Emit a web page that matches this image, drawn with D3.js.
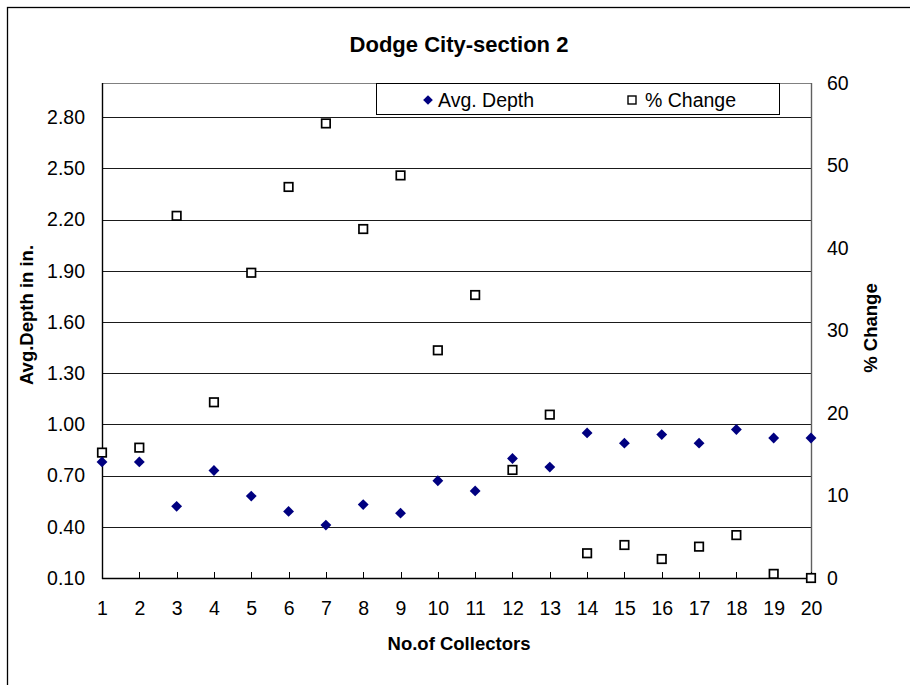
<!DOCTYPE html>
<html>
<head>
<meta charset="utf-8">
<script src="https://cdn.jsdelivr.net/npm/d3@7"></script>
<style>
  html, body { margin: 0; padding: 0; background: #fff; }
  svg { display: block; font-family: "Liberation Sans", Arial, sans-serif; }
</style>
</head>
<body>
<svg id="chart" width="910" height="685"></svg>
<script>
// ---- data ----
const categories = [1,2,3,4,5,6,7,8,9,10,11,12,13,14,15,16,17,18,19,20];
const avgDepth = [0.78,0.78,0.52,0.73,0.58,0.49,0.41,0.53,0.48,0.67,0.61,0.80,0.75,0.95,0.89,0.94,0.89,0.97,0.92,0.92];
const pctChange = [15.2,15.8,43.9,21.3,37.0,47.4,55.1,42.3,48.8,27.6,34.3,13.1,19.8,3.0,4.0,2.3,3.8,5.2,0.5,0.0];
const leftTicks = [0.10,0.40,0.70,1.00,1.30,1.60,1.90,2.20,2.50,2.80];
const rightTicks = [0,10,20,30,40,50,60];
const seriesNames = ["Avg. Depth", "% Change"];
const titleText = "Dodge City-section 2";
const xTitle = "No.of Collectors";
const yLeftTitle = "Avg.Depth in in.";
const yRightTitle = "% Change";

// ---- layout ----
const svg = d3.select("#chart");
const L = 102, R = 811, T = 83, B = 578;

const x = d3.scaleLinear().domain([1, 20]).range([L, R]);
const yL = d3.scaleLinear().domain([0.1, 3.0]).range([B, T]);
const yR = d3.scaleLinear().domain([0, 60]).range([B, T]);

// outer chart border (only top/left visible)
svg.append("rect").attr("x", 7.5).attr("y", 7.5).attr("width", 1000).attr("height", 1000)
  .attr("fill", "#fff").attr("stroke", "#000").attr("stroke-width", 1.3);

// title
svg.append("text").attr("x", 459).attr("y", 52).attr("text-anchor", "middle")
  .attr("font-size", 22).attr("font-weight", "bold").text(titleText);

// gridlines
svg.append("g").selectAll("line").data(leftTicks.filter(d => d > 0.1)).join("line")
  .attr("x1", L).attr("x2", R)
  .attr("y1", d => Math.round(yL(d)) + 0.5).attr("y2", d => Math.round(yL(d)) + 0.5)
  .attr("stroke", "#1a1a1a").attr("stroke-width", 1);

// plot border top & right (gray)
svg.append("line").attr("x1", L).attr("x2", R).attr("y1", T + 0.5).attr("y2", T + 0.5)
  .attr("stroke", "#808080").attr("stroke-width", 1.2);
svg.append("line").attr("x1", R + 0.5).attr("x2", R + 0.5).attr("y1", T).attr("y2", B)
  .attr("stroke", "#606060").attr("stroke-width", 1.4);

// left axis
const gL = svg.append("g").attr("transform", `translate(${L},0)`)
  .call(d3.axisLeft(yL).tickValues(leftTicks).tickFormat(d3.format(".2f")).tickSize(0).tickPadding(17));
gL.select(".domain").remove();
gL.selectAll("text").attr("font-size", 19.5).attr("font-family", "Liberation Sans, Arial, sans-serif").attr("fill", "#000");

// right axis
const gR = svg.append("g").attr("transform", `translate(${R},0)`)
  .call(d3.axisRight(yR).tickValues(rightTicks).tickFormat(d3.format("d")).tickSize(0).tickPadding(16));
gR.select(".domain").remove();
gR.selectAll("text").attr("font-size", 19.5).attr("font-family", "Liberation Sans, Arial, sans-serif").attr("fill", "#000");

// bottom axis
const gB = svg.append("g").attr("transform", `translate(0,${B})`)
  .call(d3.axisBottom(x).tickValues(categories).tickFormat(d3.format("d")).tickSize(0).tickPadding(23));
gB.select(".domain").remove();
gB.selectAll("text").attr("font-size", 19.5).attr("font-family", "Liberation Sans, Arial, sans-serif").attr("fill", "#000");

// inside tick marks on x axis
svg.append("g").selectAll("line").data(categories).join("line")
  .attr("x1", d => Math.round(x(d)) + 0.5).attr("x2", d => Math.round(x(d)) + 0.5)
  .attr("y1", B - 6).attr("y2", B)
  .attr("stroke", "#000").attr("stroke-width", 1);

// axis lines
svg.append("line").attr("x1", L + 0.5).attr("x2", L + 0.5).attr("y1", T).attr("y2", B + 1)
  .attr("stroke", "#000").attr("stroke-width", 1.4);
svg.append("line").attr("x1", L).attr("x2", R + 1).attr("y1", B + 0.5).attr("y2", B + 0.5)
  .attr("stroke", "#000").attr("stroke-width", 1.4);

// axis titles
svg.append("text").attr("x", 459).attr("y", 650).attr("text-anchor", "middle")
  .attr("font-size", 18.5).attr("font-weight", "bold").text(xTitle);
svg.append("text").attr("transform", "translate(33,315) rotate(-90)").attr("text-anchor", "middle")
  .attr("font-size", 18.5).attr("font-weight", "bold").text(yLeftTitle);
svg.append("text").attr("transform", "translate(877,328) rotate(-90)").attr("text-anchor", "middle")
  .attr("font-size", 18.5).attr("font-weight", "bold").text(yRightTitle);

// series: % Change squares
const sq = 8.5;
svg.append("g").selectAll("rect").data(categories).join("rect")
  .attr("x", (d, i) => x(d) - sq / 2).attr("y", (d, i) => yR(pctChange[i]) - sq / 2)
  .attr("width", sq).attr("height", sq)
  .attr("fill", "#fff").attr("stroke", "#000").attr("stroke-width", 1.7);

// series: Avg. Depth diamonds
const diamond = d3.symbol().type(d3.symbolDiamond2).size(75);
svg.append("g").selectAll("path").data(categories).join("path")
  .attr("transform", (d, i) => `translate(${x(d)},${yL(avgDepth[i])})`)
  .attr("d", diamond).attr("fill", "#000080");

// legend
const lg = svg.append("g");
lg.append("rect").attr("x", 376.5).attr("y", 83.5).attr("width", 403).attr("height", 31)
  .attr("fill", "#fff").attr("stroke", "#000").attr("stroke-width", 1);
lg.append("path").attr("transform", "translate(428,100)").attr("d", d3.symbol().type(d3.symbolDiamond2).size(60)).attr("fill", "#000080");
lg.append("text").attr("x", 438).attr("y", 106.5).attr("font-size", 19.5).text(seriesNames[0]);
lg.append("rect").attr("x", 628).attr("y", 96).attr("width", 8).attr("height", 8)
  .attr("fill", "#fff").attr("stroke", "#000").attr("stroke-width", 1.4);
lg.append("text").attr("x", 645).attr("y", 106.5).attr("font-size", 19.5).text(seriesNames[1]);
</script>
</body>
</html>
